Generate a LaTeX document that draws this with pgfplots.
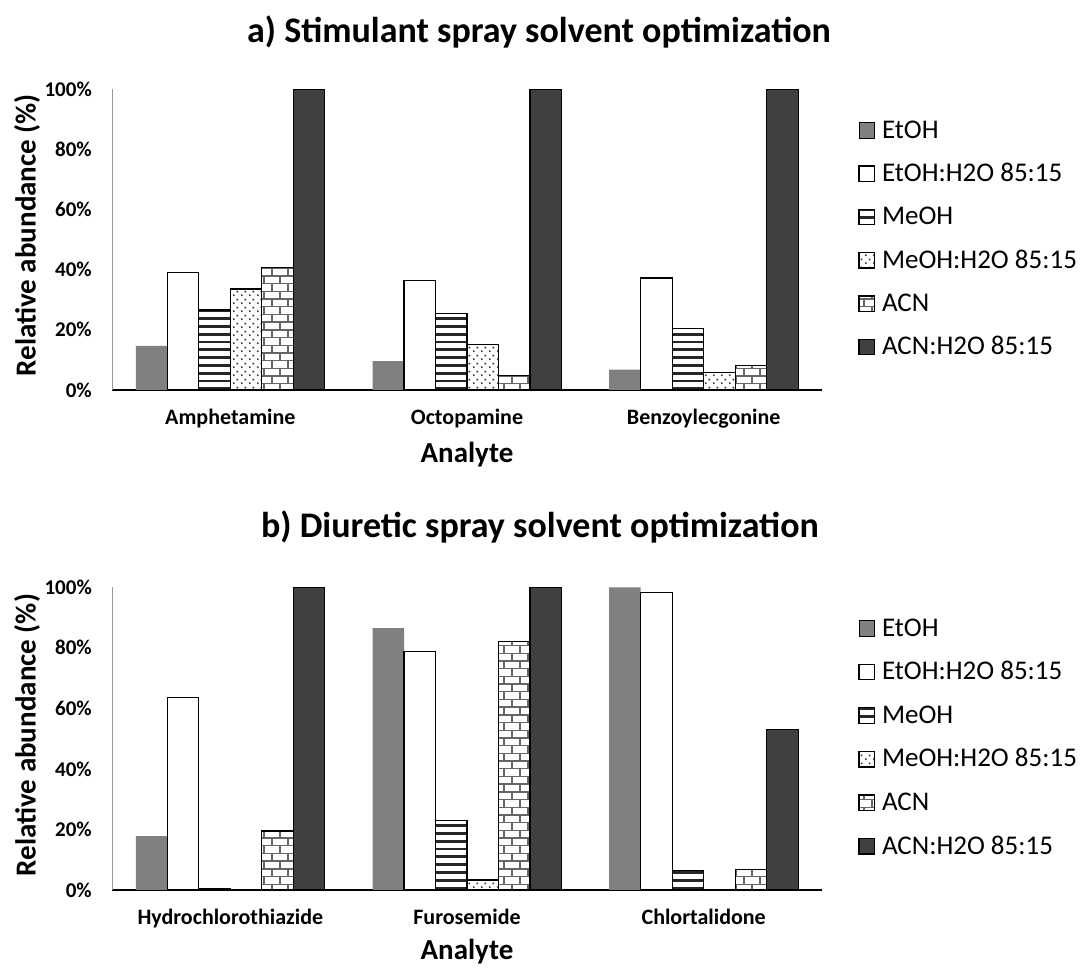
\documentclass[border=0pt]{standalone}
\usepackage{fontspec}
\setmainfont{Carlito}
\usepackage{pgfplots}
\pgfplotsset{compat=1.18}
\usepackage{pgfplotstable}
\usetikzlibrary{patterns}

\newcommand{\fsz}[1]{\fontsize{#1bp}{#1bp}\selectfont}

\pgfdeclarepatternformonly{xstripes}{\pgfpoint{-1bp}{-1bp}}{\pgfpoint{9bp}{9bp}}{\pgfpoint{8bp}{7.8bp}}{%
 \pgfsetlinewidth{2.8bp}%
 \pgfpathmoveto{\pgfpoint{-1bp}{3bp}}\pgfpathlineto{\pgfpoint{9bp}{3bp}}\pgfusepath{stroke}}
\pgfdeclarepatternformonly{xbricks}{\pgfpoint{-1bp}{-1bp}}{\pgfpoint{17bp}{16.4bp}}{\pgfpoint{16bp}{15.4bp}}{%
 \pgfsetlinewidth{1.4bp}%
 \pgfpathmoveto{\pgfpoint{-1bp}{0bp}}\pgfpathlineto{\pgfpoint{17bp}{0bp}}%
 \pgfpathmoveto{\pgfpoint{-1bp}{7.7bp}}\pgfpathlineto{\pgfpoint{17bp}{7.7bp}}%
 \pgfpathmoveto{\pgfpoint{0bp}{0bp}}\pgfpathlineto{\pgfpoint{0bp}{7.7bp}}%
 \pgfpathmoveto{\pgfpoint{8bp}{7.7bp}}\pgfpathlineto{\pgfpoint{8bp}{15.4bp}}%
 \pgfusepath{stroke}}
\pgfdeclarepatternformonly{xdots}{\pgfpoint{0bp}{0bp}}{\pgfpoint{8bp}{8bp}}{\pgfpoint{8bp}{8bp}}{%
 \pgfpathcircle{\pgfpoint{2bp}{2bp}}{1.2bp}\pgfpathcircle{\pgfpoint{6bp}{6bp}}{1.2bp}\pgfusepath{fill}}

\definecolor{gEtOH}{HTML}{808080}
\definecolor{gACNW}{HTML}{404040}

\pgfplotstableread{
x EtOH EtOHW MeOH MeOHW ACN ACNW
0 14.7 39.0 26.6 33.6 40.8 100
1 9.6 36.4 25.5 15.2 4.9 100
2 6.8 37.2 20.5 5.7 8.2 100
}\tabA
\pgfplotstableread{
x EtOH EtOHW MeOH MeOHW ACN ACNW
0 17.8 63.5 0.6 0 19.5 100
1 86.5 78.9 22.9 3.3 82.2 100
2 100 98.3 6.5 0 6.8 53.1
}\tabB

\pgfplotsset{
 leg/.style={legend image code/.code={\draw[##1] (0bp,-6bp) rectangle (15.5bp,9.5bp); \path (22.5bp,0bp);}},
 sEtOH/.style={leg, fill=gEtOH, draw=none},
 sEtOHW/.style={leg, fill=white, draw=black, line width=1.3bp},
 sMeOH/.style={leg, fill=white, draw=black, line width=1.3bp, postaction={pattern=xstripes, pattern color=black!85}},
 sMeOHW/.style={leg, fill=white, draw=black, line width=1.3bp, postaction={pattern=xdots, pattern color=black!75}},
 sACN/.style={leg, fill=white, draw=black, line width=1.3bp, postaction={pattern=xbricks, pattern color=black!60}},
 sACNW/.style={leg, fill=gACNW, draw=black, line width=1.3bp},
 myaxis/.style={
  scale only axis, width=710bp,
  ybar=0pt, bar width=31.5bp,
  xmin=-0.5, xmax=2.5, ymin=0, ymax=100,
  enlargelimits=false, clip=false,
  axis lines*=left,
  x axis line style={-, black, line width=2bp},
  y axis line style={-, black!40, line width=1bp},
  major tick length=0pt,
  xtick={0,1,2},
  ytick={0,20,40,60,80,100},
  yticklabels={0\%,20\%,40\%,60\%,80\%,100\%},
  yticklabel style={font=\fsz{21}\bfseries, anchor=east, inner sep=0pt, xshift=-20bp},
  xticklabel style={font=\fsz{22}\bfseries, anchor=base, inner sep=0pt, yshift=-35bp},
  ylabel={Relative abundance (\%)},
  xlabel={Analyte},
  legend cell align=left,
 },
}

\begin{document}
\begin{tikzpicture}[x=1bp,y=1bp]
\useasboundingbox (0,0) rectangle (1088,969);

\node[font=\fsz{36}\bfseries, anchor=base] at (539,926) {a) Stimulant spray solvent optimization};
\node[font=\fsz{36}\bfseries, anchor=base] at (540,431) {b) Diuretic spray solvent optimization};

\begin{axis}[myaxis,
  at={(112bp,579bp)}, anchor=south west, height=300.7bp,
  xticklabels={Amphetamine, Octopamine, Benzoylecgonine},
  every axis y label/.style={at={(axis description cs:-0.1197,0.515)}, rotate=90, anchor=center, font=\fsz{29}\bfseries},
  every axis x label/.style={at={(axis description cs:0.5,-0.216)}, anchor=center, font=\fsz{29}\bfseries},
  legend style={at={(axis description cs:1.0507,0.898)}, anchor=north west, draw=none, fill=none,
    inner sep=0pt, row sep=19.3bp, font=\fsz{27},
    nodes={inner sep=0pt, text height=18bp, text depth=6bp}},
]
\addplot[sEtOH] table[x=x,y=EtOH] {\tabA};
\addplot[sEtOHW] table[x=x,y=EtOHW] {\tabA};
\addplot[sMeOH] table[x=x,y=MeOH] {\tabA};
\addplot[sMeOHW] table[x=x,y=MeOHW] {\tabA};
\addplot[sACN] table[x=x,y=ACN] {\tabA};
\addplot[sACNW] table[x=x,y=ACNW] {\tabA};
\legend{EtOH, EtOH:H2O 85:15, MeOH, MeOH:H2O 85:15, ACN, ACN:H2O 85:15}
\end{axis}

\begin{axis}[myaxis,
  at={(112bp,79bp)}, anchor=south west, height=302.7bp,
  xticklabels={Hydrochlorothiazide, Furosemide, Chlortalidone},
  every axis y label/.style={at={(axis description cs:-0.1197,0.512)}, rotate=90, anchor=center, font=\fsz{29}\bfseries},
  every axis x label/.style={at={(axis description cs:0.5,-0.205)}, anchor=center, font=\fsz{29}\bfseries},
  legend style={at={(axis description cs:1.0507,0.899)}, anchor=north west, draw=none, fill=none,
    inner sep=0pt, row sep=19.6bp, font=\fsz{27},
    nodes={inner sep=0pt, text height=18bp, text depth=6bp}},
]
\addplot[sEtOH] table[x=x,y=EtOH] {\tabB};
\addplot[sEtOHW] table[x=x,y=EtOHW] {\tabB};
\addplot[sMeOH] table[x=x,y=MeOH] {\tabB};
\addplot[sMeOHW] table[x=x,y=MeOHW] {\tabB};
\addplot[sACN] table[x=x,y=ACN] {\tabB};
\addplot[sACNW] table[x=x,y=ACNW] {\tabB};
\legend{EtOH, EtOH:H2O 85:15, MeOH, MeOH:H2O 85:15, ACN, ACN:H2O 85:15}
\end{axis}
\end{tikzpicture}
\end{document}
